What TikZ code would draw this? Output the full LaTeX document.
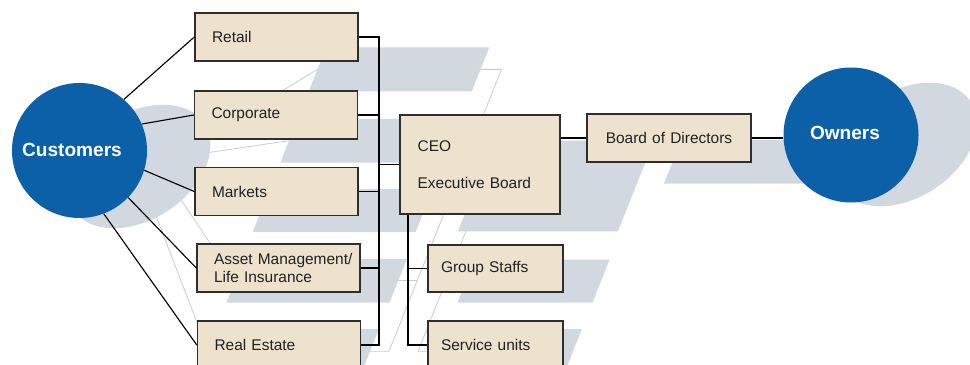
\documentclass[tikz,border=0pt]{standalone}
\usepackage{fontspec}
\setmainfont{Liberation Sans}

\definecolor{hubblue}{HTML}{0B60A8}
\definecolor{shadegrey}{HTML}{D1D8DF}
\definecolor{ghostline}{HTML}{C4CDD8}
\definecolor{boxfill}{HTML}{ECE2CE}
\definecolor{boxline}{HTML}{2E2E2E}
\definecolor{ink}{HTML}{222222}

\newcommand{\boxfont}{\fontsize{11.6pt}{12.8pt}\selectfont}
\newcommand{\hubfont}{\fontsize{14.3pt}{16pt}\selectfont\bfseries}

\tikzset{
    unit/.style={draw=boxline, fill=boxfill, line width=1.1pt, text=ink, font=\boxfont,
        align=left, minimum height=36pt, inner xsep=12.75pt, text width=96.75pt},
    hub/.style={circle, fill=hubblue, minimum size=101.25pt, inner sep=0pt},
    hubtext/.style={text=white, font=\hubfont, inner sep=0pt},
    link/.style={black, line width=0.85pt},
    shade/.style={fill=shadegrey},
    ghost/.style={draw=ghostline, line width=0.6pt},
}

\begin{document}
\begin{tikzpicture}[x=0.75pt, y=-0.75pt]
            \useasboundingbox (0,0) rectangle (970,364);
            \clip (0,0) rectangle (970,364);

            % shadows of boxes and links, sheared onto the floor
            \begin{scope}[cm={1,0,0.365,0.915,(102pt,-26.625pt)}]
                \fill[shade] (195,13) rectangle (358,61);
                \fill[shade] (195,91) rectangle (357,139);
                \fill[shade] (195,168) rectangle (358,215);
                \fill[shade] (197,244) rectangle (360,292);
                \fill[shade] (198,321) rectangle (360,369);
                \fill[shade] (400,115) rectangle (560,214);
                \fill[shade] (587,114) rectangle (751,162);
                \fill[shade] (428,245) rectangle (563,292);
                \fill[shade] (428,321) rectangle (563,369);

                \draw[ghost] (80,138.1) -- (195,37);
                \draw[ghost] (80,134.6) -- (195,115);
                \draw[ghost] (80,143.4) -- (195,191.5);
                \draw[ghost] (80,148.1) -- (197,268);
                \draw[ghost] (80,180.5) -- (198,345);
                \draw[ghost] (358,37) -| (379,345) -- (360,345);
                \draw[ghost] (357,115) -- (379,115) (358,191.5) -- (379,191.5)
                    (360,268) -- (379,268) (379,164.5) -- (400,164.5);
                \draw[ghost] (408,214) |- (428,345) (408,268.5) -- (428,268.5);
                \draw[ghost] (560,138) -- (587,138) (751,138) -- (784,138);
            \end{scope}

            \begin{scope}[shift={(138.5,166.5)}, cm={1,0,0.365,0.915,(0pt,0pt)}]
                \fill[shade] (0,0) circle[radius=67.5];
            \end{scope}
            \begin{scope}[shift={(905,144.5)}, cm={1,0,0.365,0.915,(0pt,0pt)}]
                \fill[shade] (0,0) circle[radius=67.5];
            \end{scope}

            \node[hub] (cust) at (79.5,150.5) {};
            \node[hubtext] (custname) at (72,150) {Customers};
            \node[hub] (owners) at (851,135) {};
            \node[hubtext] (ownname) at (845,133) {Owners};

            \node[unit] (retail) at (276.5,37) {Retail};
            \node[unit] (corp) at (276,115) {Corporate};
            \node[unit] (markets) at (276.5,191.5) {Markets};
            \node[unit] (asset) at (278.5,268) {\mbox{Asset Management/}\\Life Insurance};
            \node[unit] (estate) at (279,345) {Real Estate};
            \node[unit, minimum height=74.25pt, inner xsep=13.2pt, text width=93.6pt]
                (ceo) at (480,164.5) {CEO\\[15.2pt]Executive Board};
            \node[unit, inner xsep=14.1pt, text width=94.8pt] (board) at (669,138) {Board of Directors};
            \node[unit, minimum height=35.25pt, inner xsep=9.75pt, text width=81.75pt]
                (staffs) at (495.5,268.5) {Group Staffs};
            \node[unit, inner xsep=9.75pt, text width=81.75pt] (service) at (495.5,345) {Service units};

            \draw[link] (cust.49) -- (retail.west);
            \draw[link] (cust.23) -- (corp.west);
            \draw[link] (cust.-17) -- (markets.west);
            \draw[link] (cust.-44) -- (asset.west);
            \draw[link] (cust.-69) -- (estate.west);

            \coordinate (bus) at (379,0);
            \coordinate (spine) at (408,0);
            \draw[link] (retail.east) -- (retail.east -| bus) -- (estate.east -| bus) -- (estate.east);
            \foreach \b in {corp,markets,asset}
                \draw[link] (\b.east) -- (\b.east -| bus);
            \draw[link] (ceo.west -| bus) -- (ceo.west);
            \draw[link] (ceo.south -| spine) |- (service.west);
            \draw[link] (staffs.west -| spine) -- (staffs.west);
            \draw[link] (board.west -| ceo.east) -- (board.west);
            \draw[link] (board.east) -- (board.east -| owners.west);

        \end{tikzpicture}
\end{document}
